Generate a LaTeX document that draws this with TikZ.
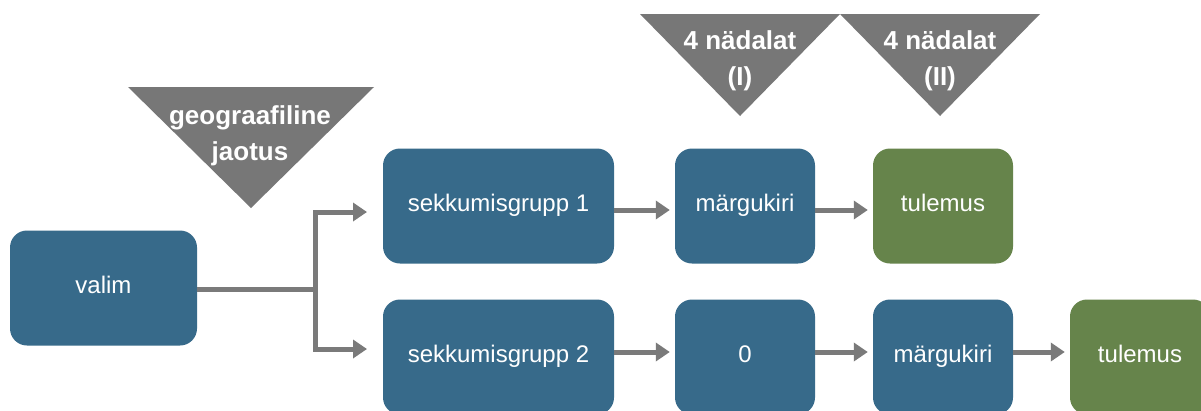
\documentclass[tikz,border=0pt]{standalone}
\usepackage{fontspec}
\setmainfont{Liberation Sans}
\usetikzlibrary{arrows.meta}
\definecolor{boxblue}{HTML}{376A8A}
\definecolor{boxgreen}{HTML}{66844B}
\definecolor{trigray}{HTML}{777777}
\definecolor{linegray}{HTML}{7A7A7A}
\begin{document}
\begin{tikzpicture}[x=1pt,y=-1pt,
  box/.style={rounded corners=17pt, minimum height=115pt, text=white, inner sep=0pt,
    text height=17pt, text depth=6pt, font=\fontsize{24}{29}\selectfont},
  bluebox/.style={box, fill=boxblue},
  greenbox/.style={box, fill=boxgreen},
  tritext/.style={text=white, align=center, inner sep=0pt, font=\fontsize{26}{36}\selectfont\bfseries},
  tri/.style={fill=trigray},
  conn/.style={draw=linegray, line width=5pt},
  arr/.style={conn, -{Triangle[length=14pt,width=18pt]}}]
\useasboundingbox (0,0) rectangle (1201,410);
\clip (0,0) rectangle (1201,410);
\fill[white] (0,0) rectangle (1201,410);
% triangles
\fill[tri] (128,87) -- (374,87) -- (251,208) -- cycle;
\node[tritext] (geo) at (250,136) {geograafiline\\jaotus};
\fill[tri] (640,14) -- (840,14) -- (740,116) -- cycle;
\node[tritext] (w1) at (740,61) {4 nädalat\\(I)};
\fill[tri] (840,14) -- (1040,14) -- (940,116) -- cycle;
\node[tritext] (w2) at (940,61) {4 nädalat\\(II)};
% boxes
\node[bluebox, minimum width=187pt] (v) at (103.5,288) {valim};
\node[bluebox, minimum width=231pt] (s1) at (498.5,206) {sekkumisgrupp 1};
\node[bluebox, minimum width=140pt] (m1) at (745,206) {märgukiri};
\node[greenbox, minimum width=140pt] (t1) at (943,206) {tulemus};
\node[bluebox, minimum width=231pt] (s2) at (498.5,357) {sekkumisgrupp 2};
\node[bluebox, minimum width=140pt] (z) at (745,357) {0};
\node[bluebox, minimum width=140pt] (m2) at (943,357) {märgukiri};
\node[greenbox, minimum width=140pt] (t2) at (1140,357) {tulemus};
% branch
\coordinate (br) at (315,289);
\coordinate (bt) at (315,212);
\coordinate (bb) at (315,349);
\coordinate (at) at (367,212);
\coordinate (ab) at (367,349);
\draw[conn] (v.east |- br) -- (br);
\draw[arr] (bb) -- (bt) -- (at);
\draw[arr] (bt) -- (bb) -- (ab);
% row arrows
\draw[arr, shorten >=5pt] ([yshift=-4pt]s1.east) -- ([yshift=-4pt]m1.west);
\draw[arr, shorten >=5pt] ([yshift=-4pt]m1.east) -- ([yshift=-4pt]t1.west);
\draw[arr, shorten >=5pt] ([yshift=5pt]s2.east) -- ([yshift=5pt]z.west);
\draw[arr, shorten >=5pt] ([yshift=5pt]z.east) -- ([yshift=5pt]m2.west);
\draw[arr, shorten >=5pt] ([yshift=5pt]m2.east) -- ([yshift=5pt]t2.west);
\end{tikzpicture}
\end{document}
